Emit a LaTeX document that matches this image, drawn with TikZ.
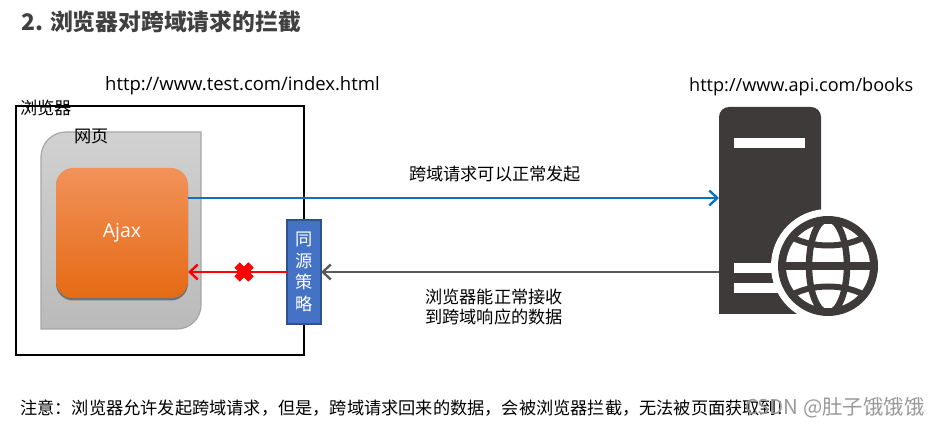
\documentclass[tikz,border=0pt]{standalone}
\usepackage{fontspec}
\setmainfont{Noto Sans CJK SC}
\newfontfamily\latinf{Open Sans}
\usetikzlibrary{arrows.meta,calc,shadows,shapes.misc}
\definecolor{srv}{HTML}{3E3A39}
\definecolor{bluearrow}{HTML}{0E70C0}
\definecolor{polfill}{HTML}{4472C4}
\definecolor{poldraw}{HTML}{2F528F}
\definecolor{ajtop}{HTML}{F2925A}
\definecolor{ajmid}{HTML}{F57D2C}
\definecolor{ajbot}{HTML}{E56A14}
\tikzset{
  lbl/.style={inner sep=0pt,font=\fontsize{17.2}{20}\selectfont,text=black},
  url/.style={inner sep=0pt,text=black},
  arr/.style={line width=2.6pt,-{Straight Barb[length=8pt,width=15pt,line width=2.4pt]}},
}
\begin{document}
\begin{tikzpicture}[x=1pt,y=-1pt]
\useasboundingbox (0,0) rectangle (939,427);
\fill[white] (0,0) rectangle (939,427);
\node[anchor=west,inner sep=0pt,text=black!75,font=\fontsize{22.8}{26}\selectfont\bfseries] (title) at (21,22) {2. 浏览器对跨域请求的拦截};
\node[url,anchor=west,font=\latinf\fontsize{18.5}{20}\selectfont] (u1) at (105,86) {http://www.test.com/index.html};
\node[url,anchor=west,font=\latinf\fontsize{18.1}{20}\selectfont] (u2) at (689,87) {http://www.api.com/books};
% browser
\node[draw=black,line width=2pt,outer sep=0pt,minimum width=288pt,minimum height=249pt,inner sep=0pt,anchor=north west] (browser) at (16,106) {};
\node[lbl,anchor=west] (blbl) at (20,108) {浏览器};
% page
\draw[draw=black!35,line width=1.2pt,top color=black!18,bottom color=black!27]
  (41,329) -- (41,157) arc[start angle=180,end angle=270,radius=25] -- (201,132) -- (201,305) arc[start angle=0,end angle=90,radius=24] -- cycle;
\node[lbl,anchor=west] (plbl) at (74,136) {网页};
% ajax
\node[rounded corners=17pt,outer sep=0pt,minimum width=132pt,minimum height=130pt,inner sep=0pt,anchor=north west,
  top color=ajtop,middle color=ajmid,bottom color=ajbot,
  drop shadow={shadow xshift=0pt,shadow yshift=-2.5pt,fill=black,opacity=.4},
  text=white,font=\latinf\fontsize{19.5}{20}\selectfont] (ajax) at (56,168) {\raisebox{-3pt}{Ajax}};
% policy
\node[draw=poldraw,fill=polfill,line width=1.5pt,outer sep=0pt,minimum width=34pt,minimum height=104pt,inner sep=0pt,anchor=north west,
  text=white,font=\fontsize{17.2}{21.5}\selectfont,align=center] (policy) at (287,220) {同\\源\\策\\略};
% server
\fill[srv] (719,314) -- (719,117) arc[start angle=180,end angle=270,radius=10] -- (811,107) arc[start angle=270,end angle=360,radius=10] -- (821,314) -- cycle;
\fill[white] (734,138) rectangle (805,148);
\fill[white] (734,263) rectangle (800,273);
\fill[white] (734,283) rectangle (800,293);
\fill[white] (828,266) circle (57);
\fill[srv] (828,266) circle (50);
\fill[white] (828,266) circle (42);
\begin{scope}
\clip (828,266) circle (43);
\draw[srv,line width=6.5pt] (828,266) ellipse (19 and 47);
\draw[srv,line width=8pt] (780,266) -- (880,266);
\draw[srv,line width=6pt] (788,235) .. controls (810,249) and (846,249) .. (868,235);
\draw[srv,line width=6pt] (788,297) .. controls (810,283) and (846,283) .. (868,297);
\end{scope}
\coordinate (srvin) at (719,198);
\coordinate (srvout) at (719,272);
% arrows
\draw[arr,bluearrow] (ajax.east |- srvin) -- (srvin);
\draw[arr,black!65] (srvout) -- (policy.east |- srvout);
\draw[arr,red] (policy.west |- srvout) -- (ajax.east |- srvout);
\draw[red,line width=7.5pt] (237,265) -- (251,279) (251,265) -- (237,279);
% labels
\node[lbl,anchor=center] (l1) at (495,174) {跨域请求可以正常发起};
\node[lbl,anchor=center,align=center,font=\fontsize{17.2}{20}\selectfont] (l2) at (494,307) {浏览器能正常接收\\到跨域响应的数据};
\node[lbl,anchor=west] (note) at (20,408) {注意：浏览器允许发起跨域请求，但是，跨域请求回来的数据，会被浏览器拦截，无法被页面获取到!};
\node[anchor=west,inner sep=0pt,text=black!40,font=\fontsize{20.4}{22}\selectfont] (wm) at (745,408) {CSDN @肚子饿饿饿};
\end{tikzpicture}
\end{document}
